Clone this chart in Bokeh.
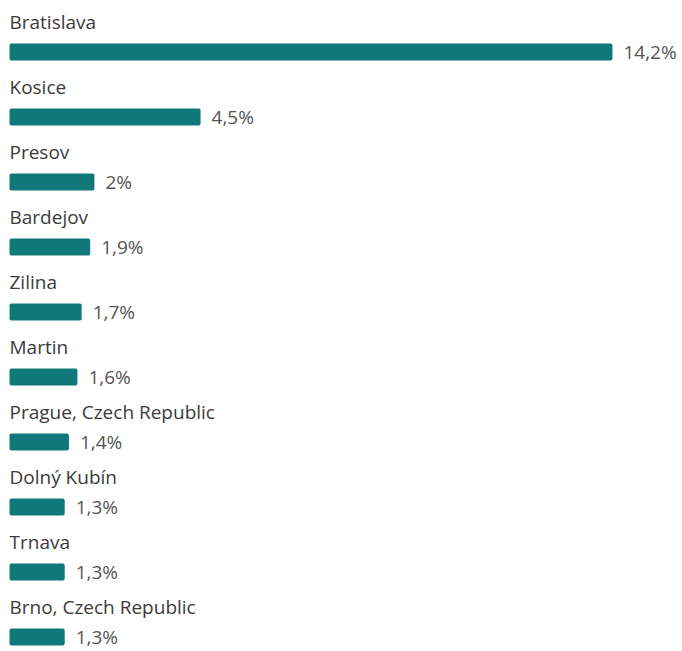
from bokeh.plotting import figure
from bokeh.models import Range1d, ColumnDataSource
from bokeh.core.properties import value
from bokeh.embed import file_html
from bokeh.resources import INLINE

cities = ["Bratislava", "Kosice", "Presov", "Bardejov", "Zilina", "Martin",
          "Prague, Czech Republic", "Dolný Kubín", "Trnava", "Brno, Czech Republic"]
shares = [14.2, 4.5, 2.0, 1.9, 1.7, 1.6, 1.4, 1.3, 1.3, 1.3]
share_labels = ["14,2%", "4,5%", "2%", "1,9%", "1,7%", "1,6%", "1,4%", "1,3%", "1,3%", "1,3%"]

W, H = 680, 650
px_per_unit = 42.46
row_px = 65.0
top_px = 51.5
left_px = 9

rows = list(range(len(cities)))
src = ColumnDataSource(dict(
    y=rows,
    label_y=[r - 30.5 / row_px for r in rows],
    city=cities,
    share=shares,
    share_label=share_labels,
    zero=[0] * len(rows),
))

p = figure(width=W, height=H, output_backend="svg", toolbar_location=None,
           x_range=Range1d(-left_px / px_per_unit, (W - left_px) / px_per_unit),
           y_range=Range1d((H - top_px) / row_px, -top_px / row_px),
           min_border=0, min_border_left=0, min_border_right=0,
           min_border_top=0, min_border_bottom=0)
p.axis.visible = False
p.grid.visible = False
p.outline_line_color = None
p.background_fill_color = "white"
p.border_fill_color = "white"

p.hbar(y="y", left="zero", right="share", height=17 / row_px, source=src,
       fill_color="#117879", line_color=None, border_radius=2)

p.text(x="zero", y="label_y", text="city", source=src,
       text_font=value("Open Sans"), text_font_size="19px",
       text_color="#3b3b3b", text_align="left", text_baseline="middle")

p.text(x="share", y="y", text="share_label", source=src, x_offset=11,
       text_font=value("Open Sans"), text_font_size="19px",
       text_color="#555555", text_align="left", text_baseline="middle")

open("out.html", "w").write(file_html(p, INLINE))
